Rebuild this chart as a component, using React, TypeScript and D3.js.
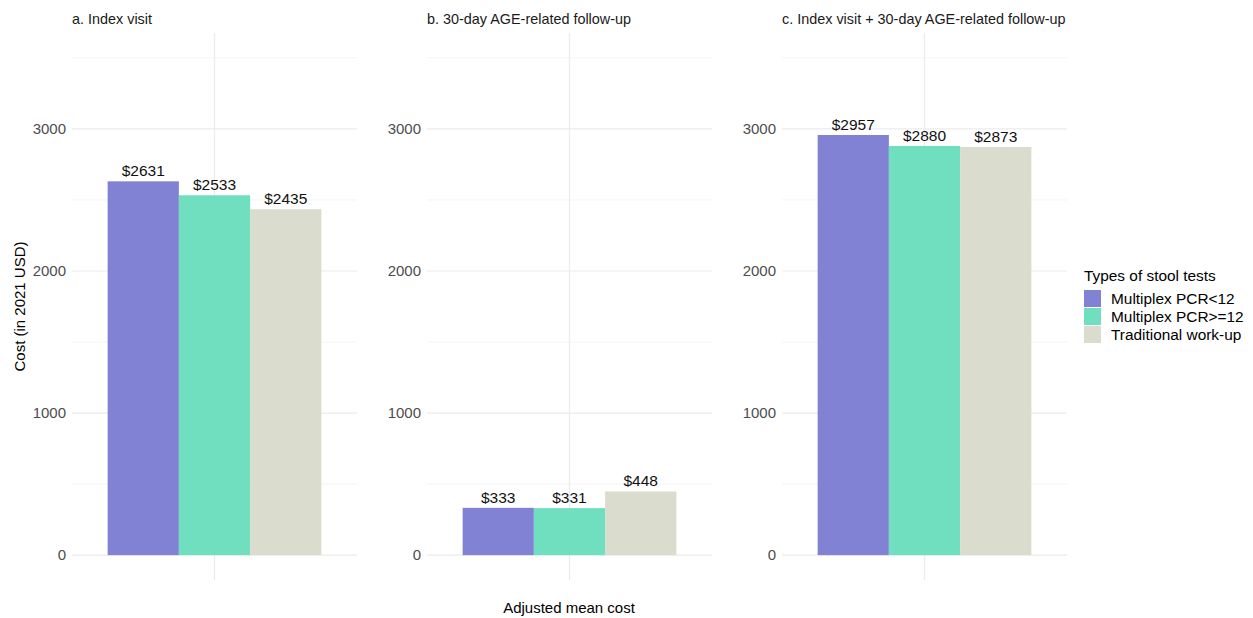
import React, { useEffect, useRef } from "react";
import * as d3 from "d3";

const testTypes = ["Multiplex PCR<12", "Multiplex PCR>=12", "Traditional work-up"];
const testColors = ["#8282d4", "#6fdfbf", "#dadccd"];
const panelTitles = [
  "a. Index visit",
  "b. 30-day AGE-related follow-up",
  "c. Index visit + 30-day AGE-related follow-up",
];
const indexVisit = [2631, 2533, 2435];
const followUp = [333, 331, 448];
const combined = [2957, 2880, 2873];
const majorTicks = [0, 1000, 2000, 3000];
const minorTicks = [500, 1500, 2500, 3500];

const W = 1253;
const H = 618;

const App: React.FC = () => {
  const ref = useRef<SVGSVGElement>(null);

  useEffect(() => {
    if (!ref.current) return;
    const svg = d3.select(ref.current).html("");
    const font = "'Liberation Sans', Arial, Helvetica, sans-serif";

    const panels = [indexVisit, followUp, combined];
    const panelLeft = [72, 427, 782];
    const panelWidth = 285;
    const top = 33;
    const bottom = 580;

    // ggplot style: limits 0..3500 with 5% expansion
    const y = d3.scaleLinear().domain([-175, 3675]).range([bottom, top]);

    panels.forEach((values, p) => {
      const g = svg.append("g").attr("transform", `translate(${panelLeft[p]},0)`);
      // one discrete category, expanded 0.6 on each side
      const x = d3.scaleLinear().domain([0.4, 1.6]).range([0, panelWidth]);

      g.selectAll(".minor")
        .data(minorTicks)
        .join("line")
        .attr("x1", 0)
        .attr("x2", panelWidth)
        .attr("y1", (d) => y(d))
        .attr("y2", (d) => y(d))
        .attr("stroke", "#f4f4f4")
        .attr("stroke-width", 1);

      g.selectAll(".major")
        .data(majorTicks)
        .join("line")
        .attr("x1", 0)
        .attr("x2", panelWidth)
        .attr("y1", (d) => y(d))
        .attr("y2", (d) => y(d))
        .attr("stroke", "#ebebeb")
        .attr("stroke-width", 1.2);

      g.append("line")
        .attr("x1", x(1))
        .attr("x2", x(1))
        .attr("y1", top)
        .attr("y2", bottom)
        .attr("stroke", "#ebebeb")
        .attr("stroke-width", 1.2);

      g.selectAll(".tick")
        .data(majorTicks)
        .join("text")
        .attr("x", -6)
        .attr("y", (d) => y(d))
        .attr("dy", "0.35em")
        .attr("text-anchor", "end")
        .attr("font-family", font)
        .attr("font-size", 15)
        .attr("fill", "#4d4d4d")
        .text((d) => d);

      const band = d3
        .scaleBand<number>()
        .domain(values.map((_, i) => i))
        .range([x(0.55), x(1.45)]);

      g.selectAll(".bar")
        .data(values)
        .join("rect")
        .attr("x", (_, i) => band(i)!)
        .attr("width", band.bandwidth())
        .attr("y", (d) => y(d))
        .attr("height", (d) => y(0) - y(d))
        .attr("fill", (_, i) => testColors[i]);

      g.selectAll(".lbl")
        .data(values)
        .join("text")
        .attr("x", (_, i) => band(i)! + band.bandwidth() / 2)
        .attr("y", (d) => y(d) - 5)
        .attr("text-anchor", "middle")
        .attr("font-family", font)
        .attr("font-size", 15.5)
        .attr("fill", "#111")
        .text((d) => `$${d}`);

      g.append("text")
        .attr("x", 0)
        .attr("y", 24)
        .attr("font-family", font)
        .attr("font-size", 14.4)
        .attr("fill", "#1a1a1a")
        .text(panelTitles[p]);
    });

    svg.append("text")
      .attr("transform", `translate(25,${(top + bottom) / 2}) rotate(-90)`)
      .attr("text-anchor", "middle")
      .attr("font-family", font)
      .attr("font-size", 15)
      .attr("fill", "#000")
      .text("Cost (in 2021 USD)");

    svg.append("text")
      .attr("x", 569)
      .attr("y", 613)
      .attr("text-anchor", "middle")
      .attr("font-family", font)
      .attr("font-size", 15)
      .attr("fill", "#000")
      .text("Adjusted mean cost");

    // legend
    const lg = svg.append("g").attr("transform", "translate(1084,0)");
    lg.append("text")
      .attr("x", 0)
      .attr("y", 281)
      .attr("font-family", font)
      .attr("font-size", 15.4)
      .attr("fill", "#000")
      .text("Types of stool tests");
    testTypes.forEach((t, i) => {
      lg.append("rect")
        .attr("x", 0)
        .attr("y", 290 + i * 18)
        .attr("width", 17)
        .attr("height", 17)
        .attr("fill", testColors[i]);
      lg.append("text")
        .attr("x", 27)
        .attr("y", 299 + i * 18)
        .attr("dy", "0.35em")
        .attr("font-family", font)
        .attr("font-size", 15.4)
        .attr("fill", "#000")
        .text(t);
    });
  }, []);

  return (
    <svg
      ref={ref}
      width={W}
      height={H}
      style={{ display: "block", position: "absolute", left: 0, top: 0 }}
    />
  );
};

export default App;
